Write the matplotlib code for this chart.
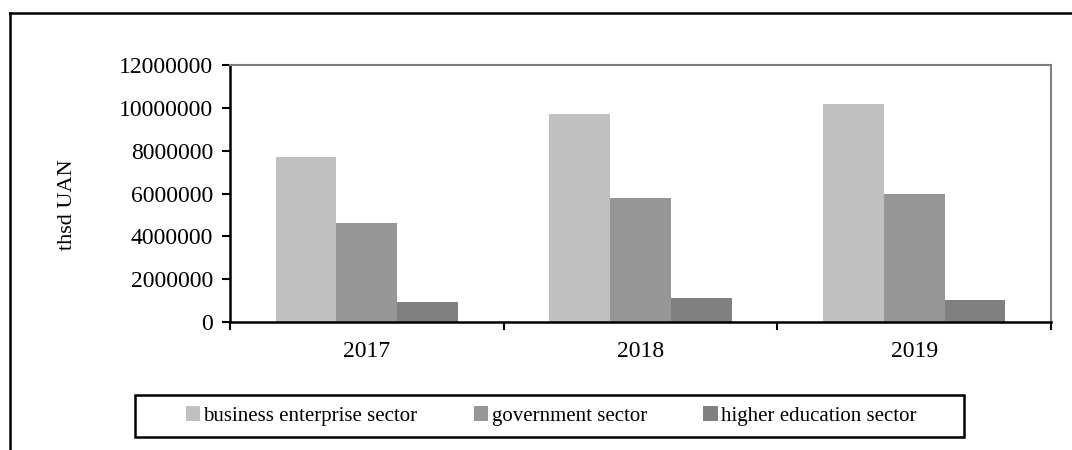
import numpy as np
import matplotlib
matplotlib.use("Agg")
import matplotlib.pyplot as plt
from matplotlib.lines import Line2D
from matplotlib.patches import Rectangle

years = ["2017", "2018", "2019"]
sectors = ["business enterprise sector", "government sector", "higher education sector"]
business = [7700000, 9730000, 10180000]
government = [4610000, 5790000, 5980000]
higher_edu = [930000, 1120000, 1030000]
colors = ["#c0c0c0", "#969696", "#808080"]

plt.rcParams['font.family'] = ['Liberation Serif', 'DejaVu Serif']

W, H = 1072, 450
fig = plt.figure(figsize=(W / 100, H / 100), dpi=100)
ax = fig.add_axes([230 / W, 1 - 322 / H, (1051 - 230) / W, (322 - 65) / H])

x = np.arange(1, len(years) + 1)
bw = 1 / 4.5
for i, (vals, lab) in enumerate(zip([business, government, higher_edu], sectors)):
    ax.bar(x + (i - 1) * bw, vals, bw, color=colors[i], label=lab, zorder=2)

ax.set_xlim(0.5, 3.5)
ax.set_ylim(0, 12000000)
ax.set_yticks(np.arange(0, 12000001, 2000000))
ax.set_yticklabels([str(v) for v in range(0, 12000001, 2000000)], fontsize=17)
ax.set_xticks(x)
ax.set_xticklabels(years, fontsize=17)
ax.set_xticks(np.arange(0.5, 3.6, 1), minor=True)
ax.tick_params(axis='x', which='major', length=0, pad=14)
ax.tick_params(axis='x', which='minor', length=6, width=1.5, direction='out')
ax.tick_params(axis='y', length=6, width=1.5, direction='out', pad=6)

for s in ['left', 'bottom']:
    ax.spines[s].set_color('black')
    ax.spines[s].set_linewidth(1.8)
for s in ['top', 'right']:
    ax.spines[s].set_color('#808080')
    ax.spines[s].set_linewidth(1.5)

fig.text(68 / W, 1 - 205 / H, "thsd UAN", rotation=90, ha='center', va='center', fontsize=16)

# legend box
fig.patches.append(Rectangle((135 / W, 1 - 437 / H), (964 - 135) / W, 42 / H,
                             transform=fig.transFigure, fill=False, edgecolor='black', linewidth=1.8))
leg = fig.legend(loc='center', bbox_to_anchor=(551 / W, 1 - 416 / H), ncol=3, frameon=False,
                 fontsize=15, handlelength=0.7, handleheight=0.7, handletextpad=0.15,
                 columnspacing=2.7)

# outer frame
fig.add_artist(Line2D([10 / W, 1], [1 - 13 / H, 1 - 13 / H], transform=fig.transFigure, color='black', lw=1.8))
fig.add_artist(Line2D([10 / W, 10 / W], [0, 1 - 13 / H], transform=fig.transFigure, color='black', lw=1.8))

fig.savefig("out.png", dpi=100)
